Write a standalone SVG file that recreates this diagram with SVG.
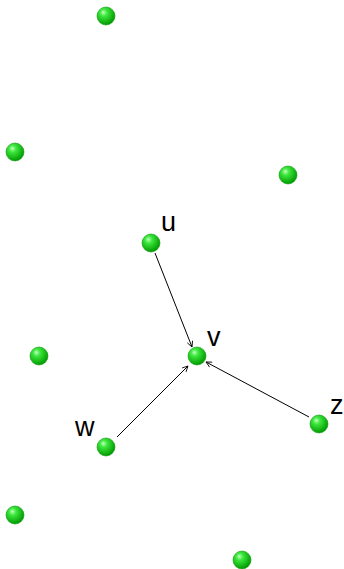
<svg xmlns="http://www.w3.org/2000/svg" width="344" height="569" viewBox="0 0 344 569">
<style>
.n{fill:url(#g);stroke:#0c9a0c;stroke-width:0.6}
.e{stroke:#000;stroke-width:1;fill:none;marker-end:url(#a)}
.l{font-family:"Liberation Sans",Arial,sans-serif;font-size:27px;fill:#000}
</style>
<defs>
<radialGradient id="g" cx="0.4" cy="0.35" r="0.65" fx="0.35" fy="0.3">
<stop offset="0" stop-color="#c0ffc0"/>
<stop offset="0.3" stop-color="#3ee83e"/>
<stop offset="1" stop-color="#009a00"/>
</radialGradient>
<marker id="a" viewBox="0 0 10 10" refX="9" refY="5" markerWidth="7" markerHeight="7" orient="auto" markerUnits="userSpaceOnUse">
<path d="M1,1 L9,5 L1,9" fill="none" stroke="#000" stroke-width="1.2"/>
</marker>
</defs>
<g id="edges">
<line class="e" x1="155" y1="253" x2="192" y2="347"/>
<line class="e" x1="117" y1="437" x2="188" y2="366"/>
<line class="e" x1="309" y1="417" x2="206" y2="362"/>
</g>
<g id="n1"><circle class="n" cx="106" cy="16" r="9"/></g>
<g id="n2"><circle class="n" cx="15" cy="152" r="9"/></g>
<g id="n3"><circle class="n" cx="288" cy="175" r="9"/></g>
<g id="u"><circle class="n" cx="151" cy="243" r="9"/><text class="l" x="161" y="231">u</text></g>
<g id="n5"><circle class="n" cx="39" cy="356" r="9"/></g>
<g id="v"><circle class="n" cx="197" cy="356" r="9"/><text class="l" x="207" y="346">v</text></g>
<g id="w"><circle class="n" cx="106" cy="447" r="9"/><text class="l" x="75" y="436">w</text></g>
<g id="z"><circle class="n" cx="319" cy="424" r="9"/><text class="l" x="330" y="414">z</text></g>
<g id="n9"><circle class="n" cx="15" cy="515" r="9"/></g>
<g id="n10"><circle class="n" cx="242" cy="560" r="9"/></g>
</svg>
